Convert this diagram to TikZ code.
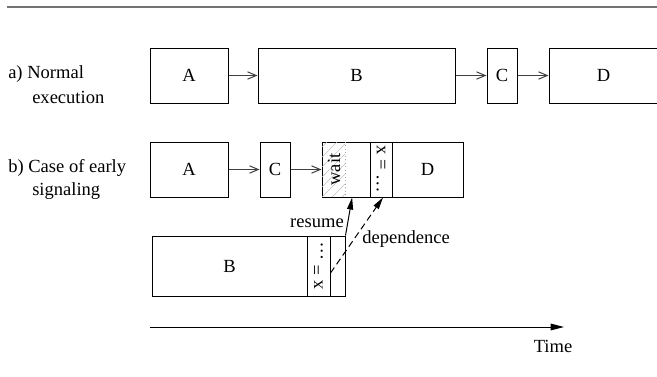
\documentclass[tikz,border=0pt]{standalone}
\usepackage{fontspec}
\setmainfont{Liberation Serif}
\usetikzlibrary{arrows.meta,calc}
\begin{document}
\begin{tikzpicture}[x=0.75pt,y=-0.75pt,
  every node/.style={font=\fontsize{13.9}{16}\selectfont},
  box/.style={draw=black,line width=0.75pt,inner sep=0pt,minimum height=41.25pt},
  tallbox/.style={draw=black,line width=0.75pt,inner sep=0pt,minimum height=45pt},
  txt/.style={inner sep=0pt},
  flow/.style={draw=black!75,line width=0.75pt,-{Straight Barb[length=6.5pt,width=5.5pt]}},
  sig/.style={line width=0.75pt,-{Triangle[length=9pt,width=4.5pt]}},
  rule/.style={draw=black!55,line width=1.5pt},
  hatch/.style={draw=black!25,line width=0.4pt}]
\clip (0,0) rectangle (657,376);
% top rule
\coordinate (r0) at (7,7);
\coordinate (r1) at (657,7);
\draw[rule] (r0) -- (r1);

% row a
\node[txt,anchor=west] (la1) at (8,74) {a) Normal};
\node[txt,anchor=west] (la2) at (32,97) {execution};
\node[box,minimum width=58.5pt] (aA) at (189,75.5) {A};
\node[box,minimum width=147.75pt] (aB) at (356.5,75.5) {B};
\node[box,minimum width=22.5pt] (aC) at (502,75.5) {C};
\node[box,minimum width=81.75pt] (aD) at (603.5,75.5) {D};
\draw[flow] (aA) -- (aB);
\draw[flow] (aB) -- (aC);
\draw[flow] (aC) -- (aD);

% row b
\node[txt,anchor=west] (lb1) at (8,168) {b) Case of early};
\node[txt,anchor=west] (lb2) at (32,191) {signaling};
\node[box,minimum width=58.5pt] (bA) at (189,169.5) {A};
\node[box,minimum width=22.5pt] (bC) at (275,169.5) {C};
\node[box,minimum width=36pt] (wait) at (346,169.5) {};
\node[box,minimum width=16.5pt] (bx) at (381,169.5) {};
\node[box,minimum width=53.25pt] (bD) at (427.5,169.5) {D};
\begin{scope}
  \clip (322,142) rectangle (345,197);
  \foreach \i in {-70,-60,...,30} \draw[hatch] (322+\i,197) -- (377+\i,142);
\end{scope}
\coordinate (d0) at (345,142);
\coordinate (d1) at (345,197);
\draw[black!35,dotted,line width=0.6pt] (d0) -- (d1);
\node[txt,rotate=90] (twait) at (334,169.5) {wait};
\node[txt,rotate=-90] (tbx) at (bx) {x = \ldots};
\draw[flow] (bA) -- (bC);
\draw[flow] (bC) -- (wait);

% B in row b
\node[tallbox,minimum width=116.25pt] (bB) at (229.5,266) {B};
\node[tallbox,minimum width=17.25pt] (bBx) at (318.5,266) {};
\node[tallbox,minimum width=11.25pt] (bBe) at (337.5,266) {};
\node[txt,rotate=90] (tbBx) at (bBx) {x = \ldots};

% resume / dependence
\coordinate (rEnd) at ($(wait.south west)!0.625!(wait.south east)$);
\draw[sig] (bBe.north east) -- (rEnd);
\coordinate (dStart) at ($(bBx.east)+(0,7)$);
\coordinate (dEnd) at ($(bx.south)+(2,0)$);
\draw[sig,dashed,dash pattern=on 5pt off 3pt] (dStart) -- (dEnd);
\node[txt,anchor=east] (lres) at (344,223) {resume};
\node[txt,anchor=west] (ldep) at (362,239) {dependence};

% time axis
\coordinate (t0) at (150,327);
\coordinate (t1) at (564,327);
\draw[line width=0.75pt,-{Triangle[length=10pt,width=5pt]}] (t0) -- (t1);
\node[txt] (ltime) at (553,346) {Time};
\end{tikzpicture}
\end{document}
